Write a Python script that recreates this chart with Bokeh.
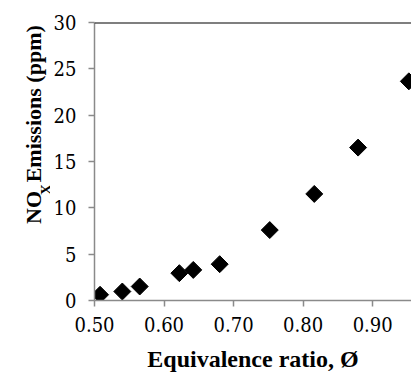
import math
from bokeh.plotting import figure
from bokeh.layouts import row
from bokeh.models import FixedTicker, NumeralTickFormatter, Span, Range1d
from bokeh.core.properties import value
from bokeh.embed import file_html
from bokeh.resources import INLINE

# data
phi = [0.508, 0.540, 0.565, 0.622, 0.642, 0.680, 0.752, 0.816, 0.879, 0.952]
nox = [0.62, 0.97, 1.51, 2.95, 3.30, 3.92, 7.60, 11.5, 16.5, 23.65]
x_ticks = [0.5, 0.6, 0.7, 0.8, 0.9]
y_ticks = [0, 5, 10, 15, 20, 25, 30]
x_title = "Equivalence ratio, Ø"
y_title_parts = ["NO", "X", "Emissions (ppm)"]

X0, X1 = 0.5, 0.9558
Y0, Y1 = 0, 30
TITLE_FONT = "Liberation Serif"
TICK_FONT = "DejaVu Serif Condensed, DejaVu Serif"
AXIS_GRAY = "#8a8a8a"
W, H = 411, 374
TITLE_W = 50

# ---- narrow strip holding the rotated y-axis title (with subscript) ----
t = figure(width=TITLE_W, height=H, output_backend="svg", toolbar_location=None,
           title_location=None,
           x_range=Range1d(0, TITLE_W), y_range=Range1d(0, H),
           x_axis_type=None, y_axis_type=None,
           min_border_left=0, min_border_right=0, min_border_top=0, min_border_bottom=0)
t.outline_line_color = None
t.grid.grid_line_color = None
# (baseline x, start y, size) in page pixels for each part
part_pos = [(33, 271, "22px"), (45, 232, "15px"), (33, 215, "22px")]
for (bx, sy, fs), txt in zip(part_pos, y_title_parts):
    t.text(x=[bx], y=[H - sy], text=[txt], angle=math.pi / 2,
           text_font=value(TITLE_FONT), text_font_style="bold", text_font_size=fs,
           text_color="black", text_align="left", text_baseline="alphabetic")

# ---- main chart ----
p = figure(width=W - TITLE_W, height=H, output_backend="svg", toolbar_location=None,
           x_range=Range1d(X0, X1), y_range=Range1d(Y0, Y1),
           min_border_left=91 - TITLE_W, min_border_right=0, min_border_top=22,
           min_border_bottom=H - 300)
p.outline_line_color = None
p.xgrid.grid_line_color = None
p.ygrid.grid_line_color = None

p.scatter(phi, nox, marker="square", size=12, angle=math.pi / 4,
          fill_color="black", line_color="black")

for ax in (p.xaxis[0], p.yaxis[0]):
    ax.axis_line_color = AXIS_GRAY
    ax.axis_line_width = 1.5
    ax.major_tick_line_color = AXIS_GRAY
    ax.major_tick_line_width = 1.5
    ax.major_tick_out = 6
    ax.major_tick_in = 0
    ax.minor_tick_line_color = None
    ax.major_label_text_font = TICK_FONT
    ax.major_label_text_font_size = "20px"
    ax.major_label_text_color = "black"

p.xaxis[0].ticker = FixedTicker(ticks=x_ticks)
p.xaxis[0].formatter = NumeralTickFormatter(format="0.00")
p.xaxis[0].major_label_standoff = 10
p.xaxis[0].axis_label = x_title
p.xaxis[0].axis_label_text_font = TITLE_FONT
p.xaxis[0].axis_label_text_font_style = "bold"
p.xaxis[0].axis_label_text_font_size = "24px"
p.xaxis[0].axis_label_text_color = "black"
p.xaxis[0].axis_label_standoff = 11

p.yaxis[0].ticker = FixedTicker(ticks=y_ticks)
p.yaxis[0].major_label_standoff = 12

p.add_layout(Span(location=Y1, dimension="width", line_color="black", line_width=2))

layout = row(t, p, spacing=0)
open("out.html", "w").write(file_html(layout, INLINE))
